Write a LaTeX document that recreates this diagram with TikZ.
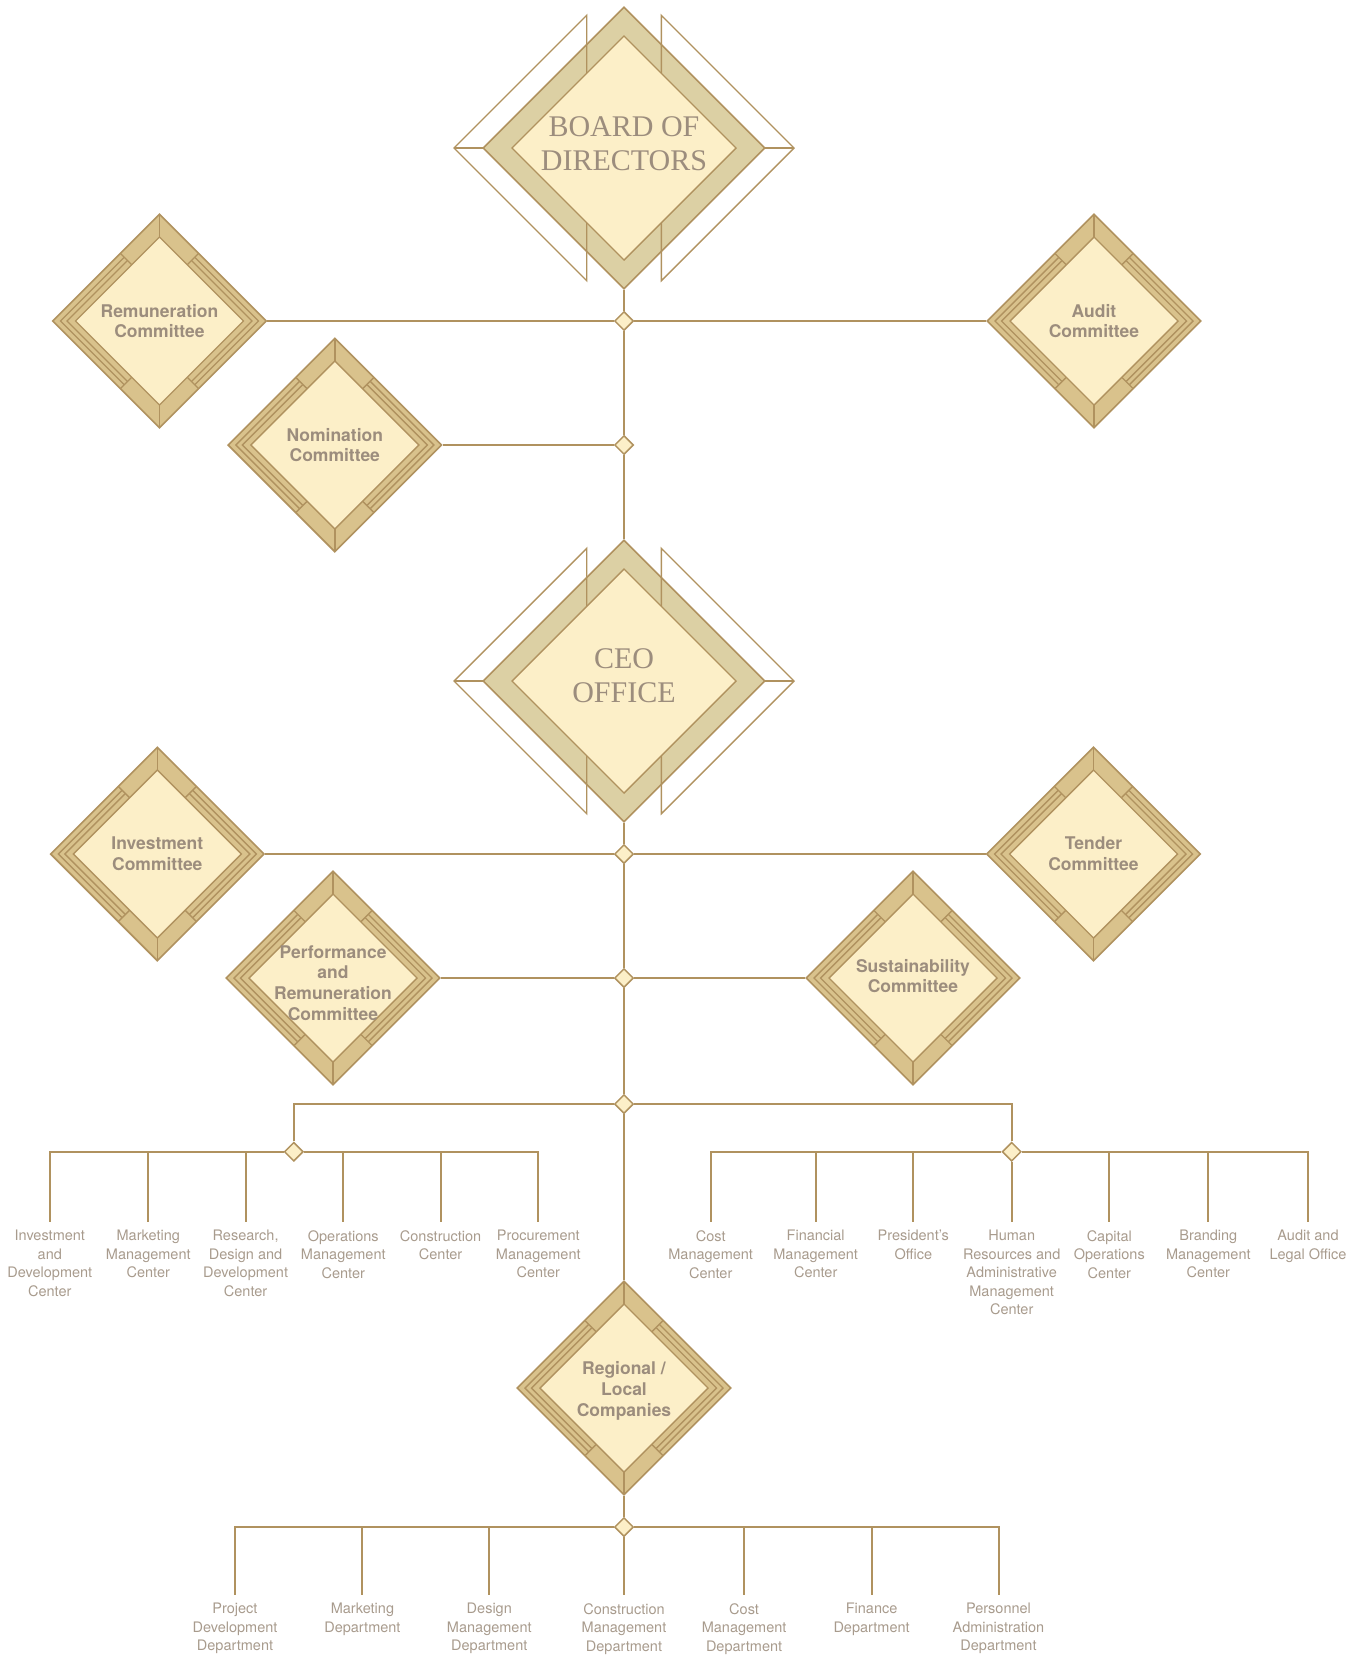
\documentclass[tikz,border=0pt]{standalone}
\usepackage{fontspec}
\setmainfont{Liberation Serif}
\setsansfont{TeX Gyre Heros}
\usetikzlibrary{shapes.geometric}
\definecolor{ctanring}{HTML}{D9C28C}
\definecolor{cbigring}{HTML}{DCD0A4}
\definecolor{ccream}{HTML}{FCEFC8}
\definecolor{cstroke}{HTML}{B0925F}
\definecolor{ctext}{HTML}{9C8D7D}
\definecolor{clabel}{HTML}{A89B8D}
\tikzset{
  conn/.style={draw=cstroke, line width=2pt},
  thinline/.style={draw=cstroke, line width=1.4pt},
  junc/.style={diamond, draw=cstroke, fill=ccream, line width=1.5pt, minimum width=19pt, minimum height=19pt, inner sep=0pt},
  commouter/.style={diamond, draw=cstroke, fill=ctanring, line width=1.6pt, minimum width=214pt, minimum height=214pt, inner sep=0pt},
  bigouter/.style={diamond, draw=cstroke, fill=cbigring, line width=1.6pt, minimum width=282pt, minimum height=282pt, inner sep=0pt},
  commtext/.style={font=\sffamily\bfseries\fontsize{17.5}{20.8}\selectfont, text=ctext, align=center, inner sep=0pt},
  bigtext/.style={font=\rmfamily\fontsize{30}{34}\selectfont, text=ctext, align=center, inner sep=0pt},
  unitlabel/.style={font=\sffamily\fontsize{14.5}{18.5}\selectfont, text=clabel, align=center, anchor=north, inner xsep=0pt, inner ysep=8pt}
}
\newcommand\commdiamond[5]{%
  \node[commouter] (#1) at (#2,#3) {};
  \begin{scope}[shift={(#2,#3)}]
    \draw[thinline] (-35.5,-63.5) -- (-99,0) -- (-35.5,63.5);
    \draw[thinline] (-32.25,-60.25) -- (-92.5,0) -- (-32.25,60.25);
    \draw[thinline] (35.5,-63.5) -- (99,0) -- (35.5,63.5);
    \draw[thinline] (32.25,-60.25) -- (92.5,0) -- (32.25,60.25);
    \draw[thinline] (-39.25,-67.75) -- (-27.75,-56.25);
    \draw[thinline] (-39.25,67.75) -- (-27.75,56.25);
    \draw[thinline] (39.25,-67.75) -- (27.75,-56.25);
    \draw[thinline] (39.25,67.75) -- (27.75,56.25);
    \draw[thinline] (0,-107) -- (0,-84);
    \draw[thinline] (0,107) -- (0,84);
    \filldraw[thinline, fill=ccream] (0,-84) -- (84,0) -- (0,84) -- (-84,0) -- cycle;
  \end{scope}
  \node[commtext] (#1-t) at (#2,#3+#4) {#5};
}
\newcommand\bigdiamond[5]{%
  \node[bigouter] (#1) at (#2,#3) {};
  \begin{scope}[shift={(#2,#3)}]
    \draw[thinline] (-37.3,-74.7) -- (-37.3,-132.7) -- (-170,0) -- (-37.3,132.7) -- (-37.3,74.7);
    \draw[thinline] (-170,0) -- (-141,0);
    \draw[thinline] (37.3,-74.7) -- (37.3,-132.7) -- (170,0) -- (37.3,132.7) -- (37.3,74.7);
    \draw[thinline] (170,0) -- (141,0);
    \filldraw[thinline, fill=ccream] (0,-112) -- (112,0) -- (0,112) -- (-112,0) -- cycle;
  \end{scope}
  \node[bigtext] (#1-t) at (#2,#3+#4) {#5};
}
\begin{document}
\begin{tikzpicture}[x=1pt,y=-1pt]
\useasboundingbox (0,0) rectangle (1363,1657);

% main shapes
\bigdiamond{board}{624}{148}{-4.3}{BOARD OF\\DIRECTORS}
\bigdiamond{ceo}{624}{681}{-4.8}{CEO\\OFFICE}

\commdiamond{rem}{159.5}{321}{0}{Remuneration\\Committee}
\commdiamond{aud}{1094}{321}{0}{Audit\\Committee}
\commdiamond{nom}{334.8}{445}{0}{Nomination\\Committee}
\commdiamond{inv}{157.3}{854}{0}{Investment\\Committee}
\commdiamond{ten}{1093.5}{854}{0}{Tender\\Committee}
\commdiamond{perf}{333}{978}{5}{Performance\\and\\Remuneration\\Committee}
\commdiamond{sus}{913}{978}{-2}{Sustainability\\Committee}
\commdiamond{reg}{624}{1388}{3}{Regional /\\Local\\Companies}

% junctions
\node[junc] (j1) at (624,321) {};
\node[junc] (j2) at (624,445) {};
\node[junc] (j3) at (624,854) {};
\node[junc] (j4) at (624,978) {};
\node[junc] (j5) at (624,1104) {};
\node[junc] (jl) at (293.8,1151.7) {};
\node[junc] (jr) at (1011.7,1151.7) {};
\node[junc] (jb) at (624,1527) {};

% left group labels
\node[unitlabel] (l1) at (49.8,1222) {Investment\\and\\Development\\Center};
\node[unitlabel] (l2) at (148.3,1222) {Marketing\\Management\\Center};
\node[unitlabel] (l3) at (245.6,1222) {Research,\\Design and\\Development\\Center};
\node[unitlabel] (l4) at (343.3,1222) {Operations\\Management\\Center};
\node[unitlabel] (l5) at (440.6,1222) {Construction\\Center};
\node[unitlabel] (l6) at (538.3,1222) {Procurement\\Management\\Center};

% right group labels
\node[unitlabel] (r1) at (710.7,1222) {Cost\\Management\\Center};
\node[unitlabel] (r2) at (815.7,1222) {Financial\\Management\\Center};
\node[unitlabel] (r3) at (913.3,1222) {President’s\\Office};
\node[unitlabel] (r4) at (1011.7,1222) {Human\\Resources and\\Administrative\\Management\\Center};
\node[unitlabel] (r5) at (1109.3,1222) {Capital\\Operations\\Center};
\node[unitlabel] (r6) at (1208.3,1222) {Branding\\Management\\Center};
\node[unitlabel] (r7) at (1308,1222) {Audit and\\Legal Office};

% bottom labels
\node[unitlabel] (b1) at (235,1595) {Project\\Development\\Department};
\node[unitlabel] (b2) at (362.4,1595) {Marketing\\Department};
\node[unitlabel] (b3) at (489.3,1595) {Design\\Management\\Department};
\node[unitlabel] (b4) at (624,1595) {Construction\\Management\\Department};
\node[unitlabel] (b5) at (744.1,1595) {Cost\\Management\\Department};
\node[unitlabel] (b6) at (871.6,1595) {Finance\\Department};
\node[unitlabel] (b7) at (998.5,1595) {Personnel\\Administration\\Department};

% spine
\draw[conn] (board) -- (j1);
\draw[conn] (j1) -- (j2);
\draw[conn] (j2) -- (ceo);
\draw[conn] (ceo) -- (j3);
\draw[conn] (j3) -- (j4);
\draw[conn] (j4) -- (j5);
\draw[conn] (j5) -- (reg);
\draw[conn] (reg) -- (jb);

% committees
\draw[conn] (rem) -- (j1);
\draw[conn] (j1) -- (aud);
\draw[conn] (nom) -- (j2);
\draw[conn] (inv) -- (j3);
\draw[conn] (j3) -- (ten);
\draw[conn] (perf) -- (j4);
\draw[conn] (j4) -- (sus);

% groups
\draw[conn] (j5) -| (jl);
\draw[conn] (j5) -| (jr);
\foreach \n in {l1,l2,l3,l4,l5,l6} { \draw[conn] (jl) -| (\n.north); }
\foreach \n in {r1,r2,r3,r5,r6,r7} { \draw[conn] (jr) -| (\n.north); }
\draw[conn] (jr) -- (r4.north);
\foreach \n in {b1,b2,b3,b5,b6,b7} { \draw[conn] (jb) -| (\n.north); }
\draw[conn] (jb) -- (b4.north);
\end{tikzpicture}
\end{document}
